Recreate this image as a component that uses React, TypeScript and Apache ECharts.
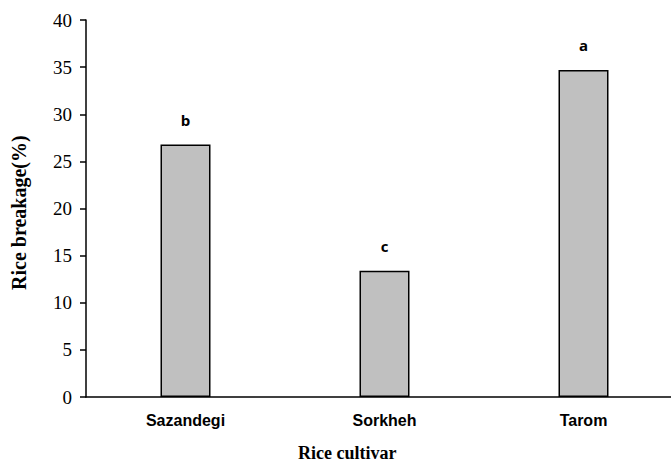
import React, { useEffect, useRef } from "react";
import * as echarts from "echarts";

const categories = ["Sazandegi", "Sorkheh", "Tarom"];
const values = [26.8, 13.4, 34.7];
const letters = ["b", "c", "a"];
const yTicks = { min: 0, max: 40, interval: 5 };
const xName = "Rice cultivar";
const yName = "Rice breakage(%)";

export default function App() {
  const ref = useRef<HTMLDivElement>(null);
  useEffect(() => {
    if (!ref.current) return;
    const chart = echarts.init(ref.current, null, { renderer: "svg" });
    chart.setOption({
      animation: false,
      backgroundColor: "#ffffff",
      grid: { left: 86, top: 20, width: 597, height: 377, containLabel: false },
      xAxis: {
        type: "category",
        data: categories,
        axisLine: { lineStyle: { color: "#000", width: 1.5 } },
        axisTick: { show: false },
        axisLabel: {
          color: "#000",
          fontFamily: "Liberation Sans, Arial, sans-serif",
          fontWeight: "bold",
          fontSize: 16,
          margin: 15,
        },
      },
      yAxis: {
        type: "value",
        min: yTicks.min,
        max: yTicks.max,
        interval: yTicks.interval,
        splitLine: { show: false },
        axisLine: { show: true, lineStyle: { color: "#000", width: 1.5 } },
        axisTick: { show: true, length: 6, lineStyle: { color: "#000", width: 1.5 } },
        axisLabel: {
          color: "#000",
          fontFamily: "Liberation Serif, Times New Roman, serif",
          fontSize: 19,
          margin: 14,
        },
      },
      graphic: [
        {
          type: "text",
          left: 298,
          top: 444,
          style: {
            text: xName,
            fill: "#000",
            font: "bold 18px 'Liberation Serif', serif",
          },
        },
        {
          type: "text",
          x: 9,
          y: 290,
          rotation: Math.PI / 2,
          style: {
            text: yName,
            fill: "#000",
            font: "bold 20px 'Liberation Serif', serif",
          },
        },
      ],
      series: [
        {
          type: "bar",
          data: values,
          barWidth: 50,
          itemStyle: { color: "#c0c0c0", borderColor: "#000", borderWidth: 1.5 },
          label: {
            show: true,
            position: "top",
            distance: 17,
            color: "#000",
            fontFamily: "Open Sans, Liberation Sans, sans-serif",
            fontWeight: "bold",
            fontSize: 15,
            formatter: (p: any) => letters[p.dataIndex],
          },
        },
      ],
    });
    return () => chart.dispose();
  }, []);
  return (
    <div style={{ position: "fixed", left: 0, top: 0, width: 671, height: 464, overflow: "hidden", background: "#fff" }}>
      <div ref={ref} style={{ width: 700, height: 464 }} />
    </div>
  );
}
